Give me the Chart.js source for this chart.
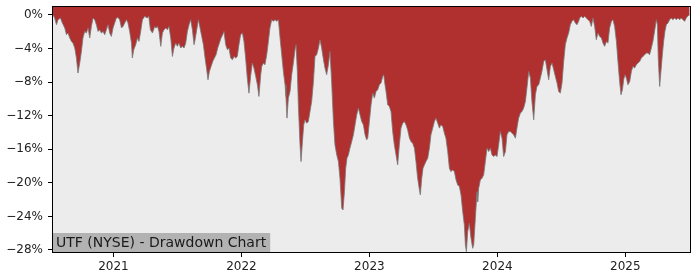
<!DOCTYPE html>
<html>
<head>
<meta charset="utf-8">
<script src="https://cdn.jsdelivr.net/npm/chart.js@4"></script>
<style>
html,body{margin:0;padding:0;background:#fff;}
#wrap{width:700px;height:280px;position:relative;}
</style>
</head>
<body>
<div id="wrap"><canvas id="c" width="700" height="280"></canvas></div>
<script>
const chartTitle = 'UTF (NYSE) - Drawdown Chart';
const yearTicks = [2021, 2022, 2023, 2024, 2025];
const pctTicks = [0, -4, -8, -12, -16, -20, -24, -28];

// time as decimal years
const dates = [
2020.528,2020.541,2020.555,2020.567,2020.586,2020.601,2020.620,2020.633,2020.645,2020.659,
2020.672,2020.684,2020.698,2020.711,2020.723,2020.737,2020.750,2020.762,2020.776,2020.789,
2020.802,2020.815,2020.828,2020.841,2020.854,2020.867,2020.880,2020.893,2020.906,2020.919,
2020.932,2020.945,2020.958,2020.971,2020.984,2020.997,2021.010,2021.023,2021.036,2021.049,
2021.063,2021.075,2021.088,2021.102,2021.114,2021.127,2021.141,2021.148,2021.159,2021.174,
2021.188,2021.200,2021.213,2021.227,2021.245,2021.263,2021.276,2021.289,2021.305,2021.323,
2021.331,2021.344,2021.356,2021.370,2021.383,2021.395,2021.409,2021.422,2021.434,2021.448,
2021.461,2021.473,2021.487,2021.500,2021.512,2021.526,2021.539,2021.552,2021.565,2021.578,
2021.591,2021.604,2021.617,2021.630,2021.638,2021.651,2021.664,2021.677,2021.690,2021.703,
2021.716,2021.729,2021.739,2021.750,2021.763,2021.776,2021.789,2021.802,2021.815,2021.828,
2021.841,2021.854,2021.864,2021.877,2021.891,2021.903,2021.916,2021.930,2021.942,2021.955,
2021.968,2021.981,2021.994,2022.008,2022.020,2022.033,2022.046,2022.059,2022.072,2022.085,
2022.098,2022.112,2022.125,2022.137,2022.151,
2022.159,2022.172,2022.184,2022.198,2022.211,2022.223,2022.237,2022.250,2022.263,2022.276,
2022.289,2022.302,2022.315,2022.328,2022.341,2022.348,2022.356,2022.367,2022.380,2022.393,
2022.406,2022.419,2022.427,2022.437,2022.445,2022.458,2022.466,2022.477,2022.487,2022.497,
2022.510,2022.523,2022.536,2022.549,2022.563,2022.575,2022.588,2022.602,2022.614,2022.627,
2022.641,2022.653,2022.666,2022.680,2022.692,2022.705,2022.719,2022.731,2022.745,2022.758,
2022.770,2022.778,2022.784,2022.794,2022.805,2022.815,2022.825,2022.836,2022.848,2022.862,
2022.875,2022.888,2022.901,2022.914,2022.927,2022.940,2022.953,2022.966,2022.979,
2022.987,2023.000,2023.013,2023.026,2023.039,2023.052,2023.065,2023.078,2023.091,2023.104,
2023.112,2023.122,2023.130,2023.143,2023.156,2023.169,2023.182,2023.195,2023.208,2023.221,
2023.234,2023.247,2023.260,2023.273,2023.286,2023.299,2023.313,2023.325,2023.338,2023.352,
2023.364,2023.377,2023.391,2023.398,2023.409,2023.419,2023.430,2023.442,2023.456,2023.469,
2023.481,2023.495,2023.508,2023.520,2023.534,2023.547,2023.559,2023.573,2023.586,2023.598,
2023.612,2023.625,2023.637,2023.650,2023.664,2023.677,2023.690,2023.703,2023.716,2023.729,
2023.742,2023.750,2023.758,2023.768,2023.781,2023.794,2023.807,
2023.815,2023.828,2023.841,2023.846,2023.854,2023.867,2023.880,2023.893,2023.906,2023.919,
2023.932,2023.945,2023.958,2023.971,2023.984,2023.997,2024.010,2024.023,2024.036,2024.049,
2024.063,2024.075,2024.088,2024.102,2024.114,2024.127,2024.141,2024.153,2024.166,2024.180,
2024.192,2024.205,2024.219,2024.231,2024.245,2024.258,2024.270,2024.284,2024.297,2024.309,
2024.323,2024.336,2024.348,2024.362,2024.375,2024.388,2024.401,2024.414,2024.427,2024.440,
2024.453,2024.466,2024.479,2024.492,2024.505,2024.518,2024.531,2024.544,2024.557,2024.570,
2024.583,2024.596,2024.609,2024.622,2024.635,
2024.643,2024.656,2024.669,2024.682,2024.695,2024.708,2024.721,2024.734,2024.747,2024.760,
2024.773,2024.786,2024.799,2024.813,2024.825,2024.838,2024.852,2024.864,2024.877,2024.891,
2024.903,2024.916,2024.930,2024.942,2024.955,2024.966,2024.977,2024.987,2024.997,2025.008,
2025.020,2025.034,2025.047,2025.059,2025.072,2025.086,2025.098,2025.112,2025.125,2025.137,
2025.151,2025.164,2025.176,2025.189,2025.203,2025.215,2025.228,2025.242,2025.250,2025.257,
2025.268,2025.278,2025.289,2025.299,2025.309,2025.320,2025.333,2025.346,2025.359,2025.371,
2025.385,2025.398,2025.411,2025.424,2025.437,2025.450,2025.463,2025.476,2025.489,2025.502
];

// drawdown in percent
const drawdown = [
0,-0.36,-1.16,-0.56,-0.36,-0.96,-1.55,-2.35,-2.15,-2.74,
-3.15,-3.35,-3.94,-5.13,-6.92,-5.73,-4.34,-2.74,-1.96,-2.15,
-1.55,-2.74,-1.36,-0.36,-0.56,-1.16,-1.96,-1.76,-2.15,-1.96,
-2.35,-1.76,-1.16,-2.15,-2.55,-1.55,-0.96,-0.36,-0.3,-0.56,
-1.55,-1.36,-0.96,-0.56,-0.96,-1.96,-3.35,-5.13,-4.14,-3.54,
-2.74,-3.15,-1.96,-0.56,-0.16,-0.36,-0.16,-1.76,-2.15,-1.36,
-1.55,-1.36,-1.96,-3.74,-2.15,-1.76,-1.55,-1.76,-1.36,-2.74,
-4.94,-3.94,-3.35,-3.74,-3.35,-3.94,-3.74,-3.94,-3.35,-1.96,
-1.16,-0.56,-1.76,-3.54,-2.95,-1.76,-0.56,-1.55,-2.55,-3.54,
-5.13,-6.53,-7.72,-6.73,-6.13,-5.54,-5.13,-4.74,-3.94,-3.35,
-2.74,-2.35,-1.96,-3.54,-4.14,-3.94,-5.13,-5.33,-4.94,-5.13,
-4.94,-3.54,-2.35,-2.15,-3.15,-5.13,-7.52,-9.31,-7.33,-5.73,
-6.32,-7.33,-8.32,-9.71,-7.12,
-6.13,-5.73,-5.93,-4.74,-3.15,-1.55,-0.56,-0.76,-0.56,-0.76,
-0.56,-2.74,-4.74,-6.73,-8.32,-9.71,-12.29,-9.9,-9.12,-7.12,
-5.73,-4.14,-3.54,-6.73,-10.7,-15.48,-17.47,-15.08,-13.09,-12.49,
-12.89,-12.7,-11.5,-10.31,-7.92,-4.94,-4.74,-3.94,-2.95,-3.94,
-5.33,-6.32,-7.12,-5.93,-4.34,-7.92,-12.7,-15.48,-16.67,-17.47,
-19.45,-21.44,-23.03,-23.23,-21.05,-18.26,-17.06,-16.67,-15.87,-15.08,
-14.28,-13.09,-11.9,-11.1,-11.9,-12.7,-13.09,-14.28,-14.88,
-14.68,-12.7,-10.7,-9.31,-9.9,-9.12,-8.9,-8.32,-8.1,-7.33,
-7.12,-8.32,-9.12,-10.7,-10.9,-11.5,-13.89,-15.48,-16.67,-17.86,
-15.48,-13.48,-12.89,-12.7,-13.09,-13.69,-14.68,-15.08,-15.28,-15.87,
-17.47,-19.45,-20.85,-21.44,-19.45,-18.26,-17.86,-17.47,-17.06,-15.87,
-14.28,-13.48,-12.7,-12.29,-12.89,-13.48,-13.09,-13.29,-14.08,-14.68,
-16.27,-18.26,-18.66,-18.46,-18.66,-19.65,-20.25,-20.45,-21.44,-23.43,
-25.02,-27.41,-28.2,-25.82,-24.82,-26.61,-27.8,
-27.41,-24.22,-21.05,-22.24,-20.65,-19.65,-19.45,-19.05,-17.47,-15.87,
-16.27,-15.87,-16.67,-16.87,-16.67,-16.87,-15.48,-13.89,-14.68,-16.87,
-16.27,-14.28,-13.89,-13.89,-14.08,-14.28,-14.68,-13.48,-12.29,-11.69,
-11.5,-11.1,-10.31,-8.71,-6.73,-7.52,-10.31,-12.49,-9.51,-8.52,
-8.32,-7.52,-6.73,-5.54,-5.33,-6.53,-7.72,-6.13,-5.73,-6.53,
-7.33,-8.1,-9.12,-9.31,-8.1,-5.54,-3.54,-2.74,-2.15,-1.16,
-0.76,-0.56,-0.96,-1.16,-0.76,
-0.36,-0.16,-0.36,-0.16,-0.36,-0.56,-0.76,-1.36,-0.36,-1.36,
-2.95,-2.15,-2.55,-2.74,-3.35,-3.74,-3.15,-3.35,-1.55,-0.76,
-0.56,-1.36,-3.15,-5.54,-7.92,-9.51,-8.9,-7.72,-7.12,-7.52,
-8.32,-7.92,-6.73,-6.13,-6.32,-5.93,-5.73,-5.54,-5.13,-4.94,
-4.74,-4.54,-4.54,-4.74,-3.94,-3.15,-1.96,-0.56,-1.16,-5.13,
-8.52,-6.73,-4.74,-3.15,-1.96,-1.16,-0.96,-0.56,-0.36,-0.56,
-0.36,-0.56,-0.36,-0.56,-0.36,-0.56,-0.76,-0.36,-0.1,0
];

const points = [];
const n = Math.min(dates.length, drawdown.length);
for (let i = 0; i < n; i++) points.push({ x: dates[i], y: drawdown[i] });

const FONT = 'DejaVu Sans';

const framePlugin = {
  id: 'framePlugin',
  beforeDatasetsDraw(chart) {
    const { ctx, chartArea: a } = chart;
    ctx.save();
    ctx.fillStyle = '#ececec';
    ctx.fillRect(a.left, a.top, a.right - a.left, a.bottom - a.top);
    ctx.restore();
  },
  afterDatasetsDraw(chart) {
    const { ctx, chartArea: a } = chart;
    ctx.save();
    ctx.font = '14px "' + FONT + '"';
    const tw = ctx.measureText(chartTitle).width;
    const h = 19;
    ctx.fillStyle = 'rgb(178,178,178)';
    ctx.fillRect(a.left, a.bottom - h, tw + 7, h);
    ctx.fillStyle = '#1a1a1a';
    ctx.textBaseline = 'middle';
    ctx.textAlign = 'left';
    ctx.fillText(chartTitle, a.left + 3, a.bottom - h / 2 + 0.5);
    ctx.restore();
  },
  afterDraw(chart) {
    const { ctx, chartArea: a } = chart;
    ctx.save();
    ctx.strokeStyle = '#000';
    ctx.lineWidth = 1;
    ctx.strokeRect(Math.round(a.left) - 0.5, Math.round(a.top) - 0.5,
      Math.round(a.right) - Math.round(a.left) + 1, Math.round(a.bottom) - Math.round(a.top) + 1);
    ctx.restore();
  }
};

new Chart(document.getElementById('c'), {
  type: 'line',
  data: {
    datasets: [{
      data: points,
      fill: 'end',
      backgroundColor: 'rgb(176,48,48)',
      borderColor: 'rgba(120,120,120,0.8)',
      borderWidth: 1,
      pointRadius: 0,
      tension: 0
    }]
  },
  options: {
    responsive: false,
    animation: false,
    devicePixelRatio: 1,
    layout: { padding: { top: 7, right: 10, left: 0, bottom: 0 } },
    plugins: { legend: { display: false }, tooltip: { enabled: false } },
    scales: {
      x: {
        type: 'linear',
        min: 2020.528,
        max: 2025.505,
        afterBuildTicks: s => { s.ticks = yearTicks.map(v => ({ value: v })); },
        afterFit: s => { s.height = 28; s.paddingLeft = 0; s.paddingRight = 0; },
        ticks: {
          callback: v => String(v),
          color: '#222',
          font: { family: FONT, size: 12 },
          padding: 3,
          maxRotation: 0,
          autoSkip: false
        },
        grid: { display: true, drawOnChartArea: false, drawTicks: true, tickLength: 5, color: '#000', tickWidth: 1 },
        border: { display: true, color: '#000' }
      },
      y: {
        type: 'linear',
        min: -28.24,
        max: 0.95,
        afterBuildTicks: s => { s.ticks = pctTicks.map(v => ({ value: v })); },
        afterFit: s => { s.width = 53; s.paddingTop = 0; s.paddingBottom = 0; },
        ticks: {
          callback: v => (v < 0 ? '\u2212' : '') + Math.abs(v) + '%',
          color: '#222',
          font: { family: FONT, size: 12 },
          padding: 5,
          autoSkip: false
        },
        grid: { display: true, drawOnChartArea: false, drawTicks: true, tickLength: 5, color: '#000', tickWidth: 1 },
        border: { display: true, color: '#000' }
      }
    }
  },
  plugins: [framePlugin]
});
</script>
</body>
</html>
